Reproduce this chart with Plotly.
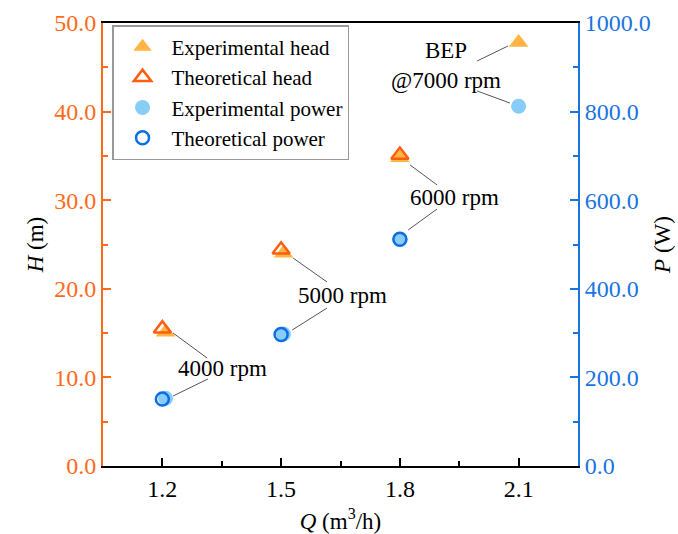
import plotly.graph_objects as go

# ---- data ----
q_theo = [1.2, 1.5, 1.8]
q_exp = [1.208, 1.506, 1.8, 2.1]
head_exp = [15.1, 24.0, 34.8, 47.8]
head_theo = [15.5, 24.4, 35.1]
power_exp = [153, 298, 512, 812]
power_theo = [151, 297, 512]

x_ticks = [1.2, 1.5, 1.8, 2.1]
h_ticks = [0, 10, 20, 30, 40, 50]
p_ticks = [0, 200, 400, 600, 800, 1000]

# annotation labels (positions in Q / H data units)
label_text = ["4000 rpm", "5000 rpm", "6000 rpm", "BEP<br>@7000 rpm"]
label_q = [1.351, 1.654, 1.939, 1.917]
label_h = [11.06, 19.19, 30.25, 45.26]
# leader lines: (q0, h0, q1, h1)
leaders = [
    (1.227, 15.01, 1.313, 12.19), (1.315, 9.82, 1.227, 7.90),
    (1.530, 23.48, 1.616, 20.77), (1.616, 17.83, 1.528, 15.35),
    (1.826, 33.97, 1.894, 31.72), (1.894, 29.01, 1.821, 26.64),
    (1.995, 45.71, 2.073, 47.40), (1.995, 42.33, 2.078, 40.97),
]

FONT = "Liberation Serif"
ORANGE = "#FF6A1A"
BLUE = "#1A74E0"

fig = go.Figure()
fig.add_trace(go.Scatter(x=q_exp, y=head_exp, mode="markers", name="Experimental head",
                         marker=dict(symbol="triangle-up", size=17, color="#FFB444",
                                     line=dict(width=0))))
fig.add_trace(go.Scatter(x=q_theo, y=head_theo, mode="markers", name="Theoretical head",
                         marker=dict(symbol="triangle-up-open", size=15, color="#FF5E0E",
                                     line=dict(width=2.5))))
fig.add_trace(go.Scatter(x=q_exp, y=power_exp, mode="markers", name="Experimental power",
                         yaxis="y2",
                         marker=dict(symbol="circle", size=15, color="#87CDF8",
                                     line=dict(width=0))))
fig.add_trace(go.Scatter(x=q_theo, y=power_theo, mode="markers", name="Theoretical power",
                         yaxis="y2",
                         marker=dict(symbol="circle-open", size=13, color="#0D6EE3",
                                     line=dict(width=2.5))))

for t, q, h in zip(label_text, label_q, label_h):
    fig.add_annotation(x=q, y=h, xref="x", yref="y", text=t, showarrow=False,
                       font=dict(family=FONT, size=23, color="black"))
for q0, h0, q1, h1 in leaders:
    fig.add_shape(type="line", xref="x", yref="y", x0=q0, y0=h0, x1=q1, y1=h1,
                  line=dict(color="#555555", width=1))

fig.update_layout(
    width=678, height=534,
    margin=dict(l=103, r=100, t=23, b=68, autoexpand=False),
    paper_bgcolor="white", plot_bgcolor="white",
    font=dict(family=FONT, size=22, color="black"),
    showlegend=True,
    legend=dict(x=0.019, y=0.995, xanchor="left", yanchor="top",
                bgcolor="white", bordercolor="#999999", borderwidth=1.5,
                font=dict(family=FONT, size=21, color="black"),
                itemwidth=48, tracegroupgap=0),
    xaxis=dict(range=[1.05, 2.25], tickvals=x_ticks, ticktext=[f"{v:.1f}" for v in x_ticks],
               ticks="inside", ticklen=8, tickwidth=1.5, tickcolor="black",
               minor=dict(tickvals=[1.35, 1.65, 1.95], ticks="inside", ticklen=5,
                          tickwidth=1.5, tickcolor="black"),
               showline=True, linecolor="black", linewidth=2, mirror=True,
               showgrid=False, zeroline=False, automargin=False,
               tickfont=dict(family=FONT, size=24, color="black"),
               title=dict(text="<i>Q</i> (m<sup>3</sup>/h)", standoff=12,
                          font=dict(family=FONT, size=23, color="black"))),
    yaxis=dict(range=[0, 50], tickvals=h_ticks, ticktext=[f"{v:.1f}" for v in h_ticks],
               ticks="inside", ticklen=8, tickwidth=1.5, tickcolor=ORANGE,
               minor=dict(tickvals=[5, 15, 25, 35, 45], ticks="inside", ticklen=5,
                          tickwidth=1.5, tickcolor=ORANGE),
               showline=True, linecolor=ORANGE, linewidth=2,
               showgrid=False, zeroline=False, automargin=False,
               tickfont=dict(family=FONT, size=24, color=ORANGE),
               title=dict(text="<i>H</i> (m)", standoff=4,
                          font=dict(family=FONT, size=23, color="black"))),
    yaxis2=dict(range=[0, 1000], overlaying="y", side="right",
                tickvals=p_ticks, ticktext=[f"{v:.1f}" for v in p_ticks],
                ticks="inside", ticklen=8, tickwidth=1.5, tickcolor=BLUE,
                minor=dict(tickvals=[100, 300, 500, 700, 900], ticks="inside", ticklen=5,
                           tickwidth=1.5, tickcolor=BLUE),
                showline=True, linecolor=BLUE, linewidth=2,
                showgrid=False, zeroline=False, automargin=False,
                tickfont=dict(family=FONT, size=24, color=BLUE),
                title=dict(text="<i>P</i> (W)", standoff=4,
                           font=dict(family=FONT, size=23, color="black"))),
)

fig.write_html("out.html")
